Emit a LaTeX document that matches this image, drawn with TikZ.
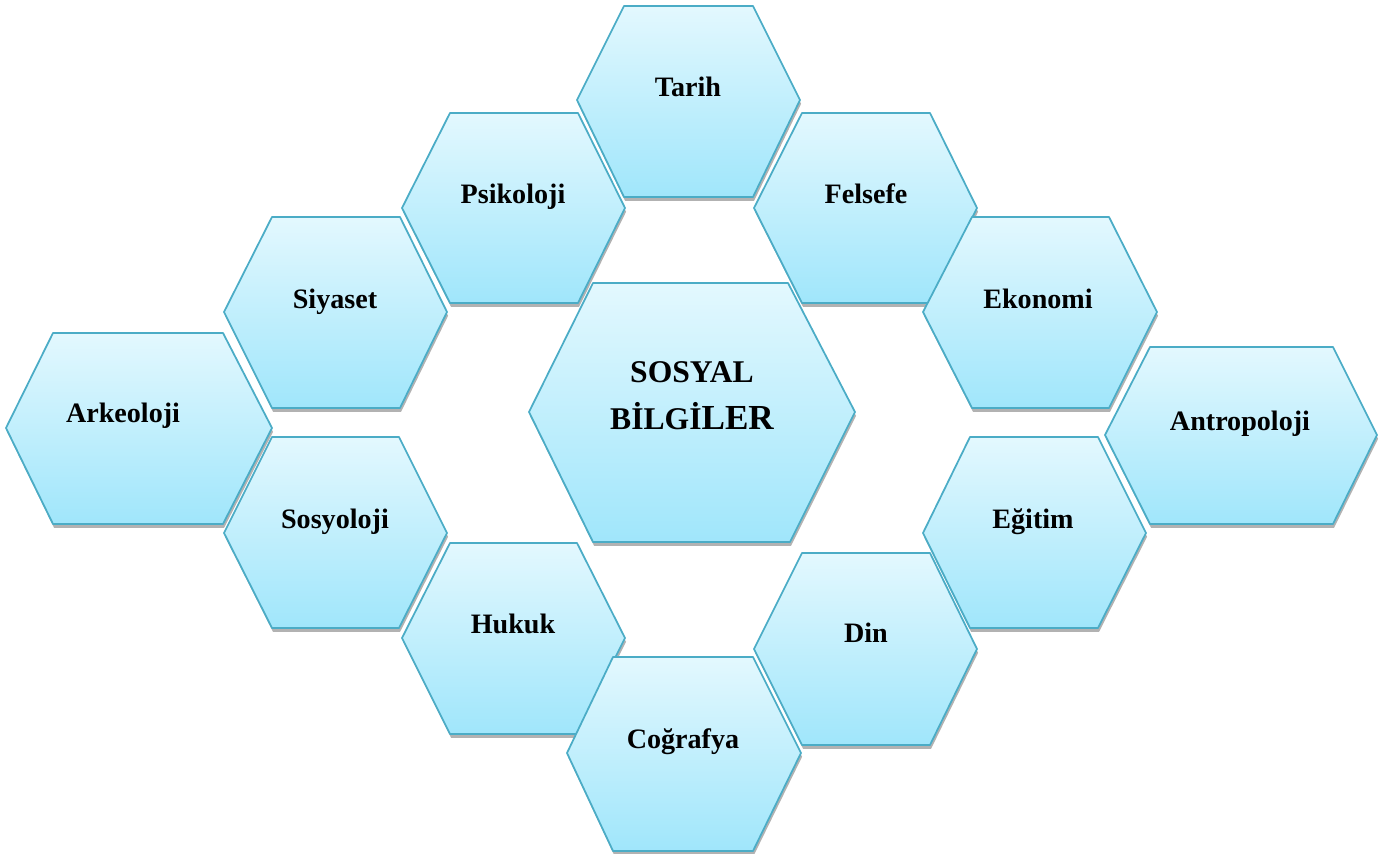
\documentclass[tikz,border=0pt]{standalone}
\usepackage{fontspec}
\setmainfont{Liberation Serif}
\usepackage{xcolor}
\usetikzlibrary{shadows}

\definecolor{hexedge}{HTML}{4BACC6}
\definecolor{hextop}{HTML}{E3F8FE}
\definecolor{hexbottom}{HTML}{A0E6FB}

\begin{document}
\begin{tikzpicture}[x=0.02cm, y=-0.02cm, line join=round,
  hexcell/.style={draw=hexedge, line width=1pt, top color=hextop, bottom color=hexbottom,
    drop shadow={shadow xshift=0.6pt, shadow yshift=-2.2pt, opacity=0.3, fill=black}},
  hexlabel/.style={anchor=base, inner sep=0pt, text=black,
    font=\bfseries\fontsize{16}{19}\selectfont}]
  \useasboundingbox (0,0) rectangle (1384,854);

  % left wing
  \draw[hexcell] (6,428) -- (53,333) -- (223,333) -- (272,428) -- (223,524) -- (53,524) -- cycle;
  \node (arkeoloji) [hexlabel] at (123,423) {Arkeoloji};

  \draw[hexcell] (224,312) -- (272,217) -- (400,217) -- (447,312) -- (400,408) -- (272,408) -- cycle;
  \node (siyaset) [hexlabel] at (335,309) {Siyaset};

  \draw[hexcell] (224,533) -- (272,437) -- (399,437) -- (447,533) -- (399,628) -- (272,628) -- cycle;
  \node (sosyoloji) [hexlabel] at (335,529) {Sosyoloji};

  \draw[hexcell] (402,208) -- (450,113) -- (578,113) -- (625,208) -- (578,303) -- (450,303) -- cycle;
  \node (psikoloji) [hexlabel] at (513,204) {Psikoloji};

  \draw[hexcell] (402,638) -- (450,543) -- (577,543) -- (625,638) -- (577,734) -- (450,734) -- cycle;
  \node (hukuk) [hexlabel] at (513,634) {Hukuk};

  % top and bottom
  \draw[hexcell] (577,100) -- (624,6) -- (753,6) -- (800,100) -- (753,197) -- (624,197) -- cycle;
  \node (tarih) [hexlabel] at (688,97) {Tarih};

  \draw[hexcell] (567,753) -- (613,657) -- (753,657) -- (801,753) -- (753,851) -- (613,851) -- cycle;
  \node (cografya) [hexlabel] at (683,749) {Coğrafya};

  % right wing
  \draw[hexcell] (754,208) -- (802,113) -- (930,113) -- (977,208) -- (930,303) -- (802,303) -- cycle;
  \node (felsefe) [hexlabel] at (866,204) {Felsefe};

  \draw[hexcell] (754,649) -- (802,553) -- (930,553) -- (977,649) -- (930,745) -- (802,745) -- cycle;
  \node (din) [hexlabel] at (866,643) {Din};

  \draw[hexcell] (923,312) -- (972,217) -- (1109,217) -- (1157,312) -- (1109,408) -- (972,408) -- cycle;
  \node (ekonomi) [hexlabel] at (1038,309) {Ekonomi};

  \draw[hexcell] (923,533) -- (970,437) -- (1098,437) -- (1146,533) -- (1098,628) -- (970,628) -- cycle;
  \node (egitim) [hexlabel] at (1033,529) {Eğitim};

  \draw[hexcell] (1105,435) -- (1150,347) -- (1333,347) -- (1377,435) -- (1333,524) -- (1150,524) -- cycle;
  \node (antropoloji) [hexlabel] at (1240,431) {Antropoloji};

  % centre
  \draw[hexcell] (529,412) -- (593,283) -- (788,283) -- (855,412) -- (790,542) -- (593,542) -- cycle;
  \node (sosyal) [hexlabel, font=\bfseries\fontsize{18}{22}\selectfont] at (692,383) {SOSYAL};
  \node (bilgiler) [hexlabel, font=\bfseries\fontsize{18}{22}\selectfont] at (692,430)
    {BİLGİ{\fontsize{20}{22}\selectfont LER}};
\end{tikzpicture}
\end{document}
